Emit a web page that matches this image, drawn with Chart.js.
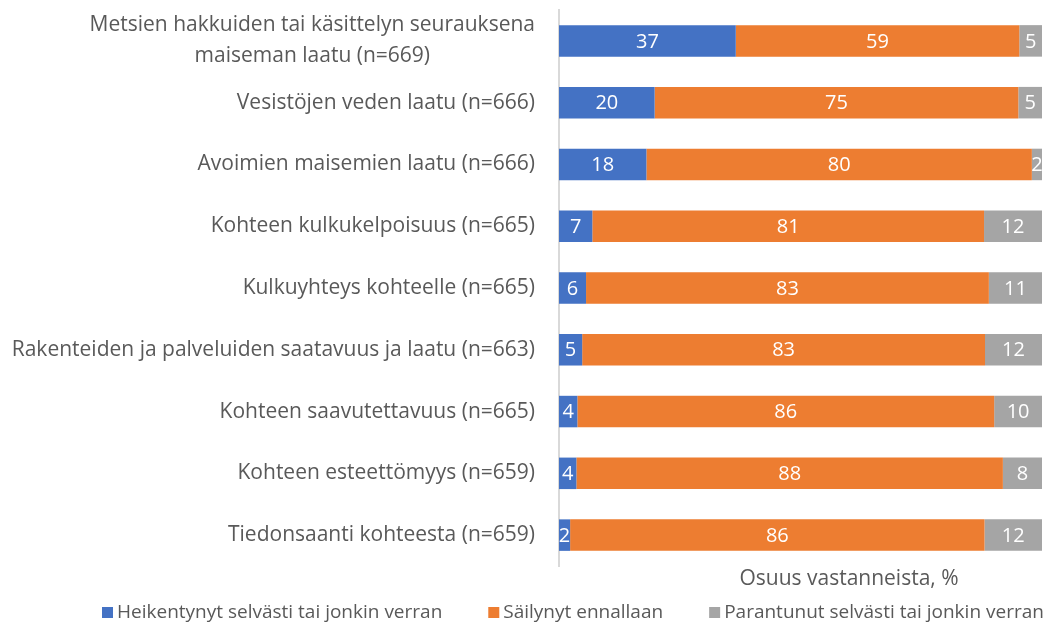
<!DOCTYPE html>
<html>
<head>
<meta charset="utf-8">
<script src="https://cdn.jsdelivr.net/npm/chart.js@4"></script>
<style>
  html, body { margin: 0; padding: 0; background: #fff; }
  #wrap { width: 1050px; height: 625px; position: relative; }
</style>
</head>
<body>
<div id="wrap"><canvas id="kohdeChart"></canvas></div>
<script>
// Kategoriat ja arvot (%)
const categories = [
  ["Metsien hakkuiden tai käsittelyn seurauksena", "maiseman laatu (n=669)"],
  "Vesistöjen veden laatu (n=666)",
  "Avoimien maisemien laatu (n=666)",
  "Kohteen kulkukelpoisuus (n=665)",
  "Kulkuyhteys kohteelle (n=665)",
  "Rakenteiden ja palveluiden saatavuus ja laatu (n=663)",
  "Kohteen saavutettavuus (n=665)",
  "Kohteen esteettömyys (n=659)",
  "Tiedonsaanti kohteesta (n=659)"
];
const heikentynyt = [36.6, 19.8, 18.1, 6.9, 5.6, 4.8, 3.8, 3.6, 2.3];
const sailynyt = [58.7, 75.3, 79.8, 81.1, 83.4, 83.4, 86.3, 88.3, 85.8];
const parantunut = [4.7, 4.9, 2.1, 12.0, 11.0, 11.8, 9.9, 8.1, 11.9];
const xTitle = "Osuus vastanneista, %";

const fontFamily = "'Open Sans', 'Noto Sans', sans-serif";
const textColor = "#595959";

// Arvot palkkien sisään
const barLabels = {
  id: "barLabels",
  afterDatasetsDraw(chart) {
    const ctx = chart.ctx;
    ctx.save();
    ctx.fillStyle = "#ffffff";
    ctx.font = "20px " + fontFamily;
    ctx.textAlign = "center";
    ctx.textBaseline = "middle";
    chart.data.datasets.forEach((ds, i) => {
      const meta = chart.getDatasetMeta(i);
      meta.data.forEach((bar, j) => {
        const cx = (bar.x + bar.base) / 2;
        ctx.fillText(Math.round(ds.data[j]), cx, bar.y + 1);
      });
    });
    ctx.restore();
  }
};

// Kategorianimet, akselin otsikko ja selite (Excel-tyyliin)
const textLayer = {
  id: "textLayer",
  afterDraw(chart) {
    const ctx = chart.ctx;
    const yScale = chart.scales.y;
    const area = chart.chartArea;
    ctx.save();
    ctx.fillStyle = textColor;
    ctx.textBaseline = "middle";

    // y-akselin nimet
    ctx.font = "21px " + fontFamily;
    const right = area.left - 24;
    categories.forEach((lab, i) => {
      const y = yScale.getPixelForValue(i);
      if (Array.isArray(lab)) {
        const w = Math.max(...lab.map(s => ctx.measureText(s).width));
        ctx.textAlign = "center";
        const lh = 31;
        lab.forEach((s, k) => {
          ctx.fillText(s, right - w / 2, y + (k - (lab.length - 1) / 2) * lh);
        });
      } else {
        ctx.textAlign = "right";
        ctx.fillText(lab, right, y);
      }
    });

    // x-akselin otsikko
    ctx.textAlign = "center";
    ctx.fillText(xTitle, 849, area.bottom + 13);

    // selite
    ctx.font = "19px " + fontFamily;
    ctx.textAlign = "left";
    let x = 102;
    const ly = area.bottom + 47;
    chart.data.datasets.forEach(ds => {
      ctx.fillStyle = ds.backgroundColor;
      ctx.fillRect(x, ly - 6, 11, 11);
      x += 15;
      ctx.fillStyle = textColor;
      ctx.fillText(ds.label, x, ly);
      x += ctx.measureText(ds.label).width + 46;
    });
    ctx.restore();
  }
};

const ctx = document.getElementById("kohdeChart").getContext("2d");
new Chart(ctx, {
  type: "bar",
  data: {
    labels: categories,
    datasets: [{
      label: "Heikentynyt selvästi tai jonkin verran",
      data: heikentynyt,
      backgroundColor: "#4472C4"
    }, {
      label: "Säilynyt ennallaan",
      data: sailynyt,
      backgroundColor: "#ED7D31"
    }, {
      label: "Parantunut selvästi tai jonkin verran",
      data: parantunut,
      backgroundColor: "#A5A5A5"
    }]
  },
  options: {
    indexAxis: "y",
    responsive: true,
    maintainAspectRatio: false,
    animation: false,
    categoryPercentage: 1,
    barPercentage: 0.51,
    layout: {
      padding: { top: 10, right: 8, bottom: 0, left: 0 }
    },
    scales: {
      x: {
        stacked: true,
        min: 0,
        max: 100,
        ticks: { display: false },
        grid: { display: false },
        border: { display: false },
        afterFit(scale) {
          scale.height = 59;
        }
      },
      y: {
        stacked: true,
        grid: { display: false, drawTicks: false },
        border: { display: true, color: "#d9d9d9", width: 2 },
        ticks: { display: false },
        afterFit(scale) {
          scale.width = 559;
          scale.paddingTop = 0;
          scale.paddingBottom = 0;
        }
      }
    },
    plugins: {
      legend: { display: false },
      tooltip: { enabled: false }
    }
  },
  plugins: [barLabels, textLayer]
});
</script>
</body>
</html>
